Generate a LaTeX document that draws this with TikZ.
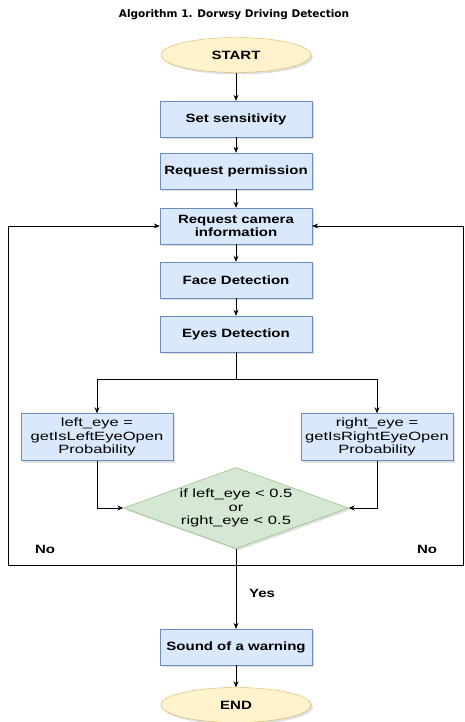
\documentclass[tikz,border=0pt]{standalone}
\usepackage{fontspec}
\setmainfont{Liberation Sans}
\newfontfamily\titlefont{DejaVu Sans}
\newfontfamily\boxfont[FakeStretch=1.25]{Liberation Sans}
\newfontfamily\plainfont[FakeStretch=1.38]{Liberation Sans}
\usetikzlibrary{shapes.geometric,arrows.meta,shadows}
\definecolor{boxfill}{HTML}{DAE8FC}
\definecolor{boxline}{HTML}{6C8EBF}
\definecolor{termfill}{HTML}{FFF2CC}
\definecolor{termline}{HTML}{D6B656}
\definecolor{condfill}{HTML}{D5E8D4}
\definecolor{condline}{HTML}{82B366}
\tikzset{
	blk/.style={draw=boxline,fill=boxfill,minimum width=152pt,minimum height=36pt,inner sep=2pt,align=center,font=\boxfont\fontsize{12}{13.7}\selectfont\bfseries,drop shadow={opacity=0.25,shadow xshift=2pt,shadow yshift=-2pt}},
	eyeblk/.style={blk,minimum height=47pt,font=\plainfont\fontsize{12}{13.7}\selectfont},
	term/.style={ellipse,draw=termline,fill=termfill,minimum width=150pt,minimum height=35pt,inner sep=0pt,font=\boxfont\fontsize{12}{13.7}\selectfont\bfseries,drop shadow={opacity=0.25,shadow xshift=2pt,shadow yshift=-2pt}},
	decide/.style={diamond,draw=condline,fill=condfill,aspect=2.8,inner sep=0pt,minimum width=225pt,minimum height=81pt,align=center,font=\plainfont\fontsize{12}{13.7}\selectfont,drop shadow={opacity=0.25,shadow xshift=2pt,shadow yshift=-2pt}},
	lbl/.style={font=\boxfont\fontsize{12}{13.7}\selectfont\bfseries},
	flow/.style={line width=0.8pt,-{Stealth[length=6pt,width=5pt]}}
}
\begin{document}
\begin{tikzpicture}[x=1pt,y=-1pt]
		\useasboundingbox (0,0) rectangle (465,722);
		%title
		\node[font=\titlefont\fontsize{10.5}{12}\selectfont\bfseries] (title) at (234,15) {Algorithm 1. Dorwsy Driving Detection};
		%main column
		\node[term] (start) at (236,55) {START};
		\node[blk] (sens) at (236,119) {Set sensitivity};
		\node[blk] (perm) at (236,171) {Request permission};
		\node[blk] (cam) at (236,226) {Request camera\\information};
		\node[blk] (face) at (236,280) {Face Detection};
		\node[blk] (eyes) at (236,334) {Eyes Detection};
		%eye branches
		\node[eyeblk] (left) at (97,437) {left\_eye =\\getIsLeftEyeOpen\\Probability};
		\node[eyeblk] (right) at (377,437) {right\_eye =\\getIsRightEyeOpen\\Probability};
		\node[decide] (cond) at (236,508) {if left\_eye < 0.5\\or\\right\_eye < 0.5};
		%end
		\node[blk] (warn) at (236,647) {Sound of a warning};
		\node[term] (stop) at (236,705) {END};
		%helper points
		\coordinate (split) at (236,379);
		\coordinate (fork) at (236,565);
		\coordinate (loopL) at (8,565);
		\coordinate (loopR) at (463,565);
		%arrows
		\foreach \From/\To in {start/sens,sens/perm,perm/cam,cam/face,face/eyes,fork/warn,warn/stop}
		\draw[flow] (\From) -- (\To);
		\draw[line width=0.8pt] (eyes) -- (split);
		\draw[flow] (split) -| (left);
		\draw[flow] (split) -| (right);
		\draw[flow] (left) |- (cond.west);
		\draw[flow] (right) |- (cond.east);
		\draw[line width=0.8pt] (cond.south) -- (fork);
		\draw[flow] (fork) -- (loopL) |- (cam.west);
		\draw[flow] (fork) -- (loopR) |- (cam.east);
		%labels
		\node[lbl] (no1) at (45,549) {No};
		\node[lbl] (no2) at (427,549) {No};
		\node[lbl] (yes) at (262,593) {Yes};
	\end{tikzpicture}
\end{document}
